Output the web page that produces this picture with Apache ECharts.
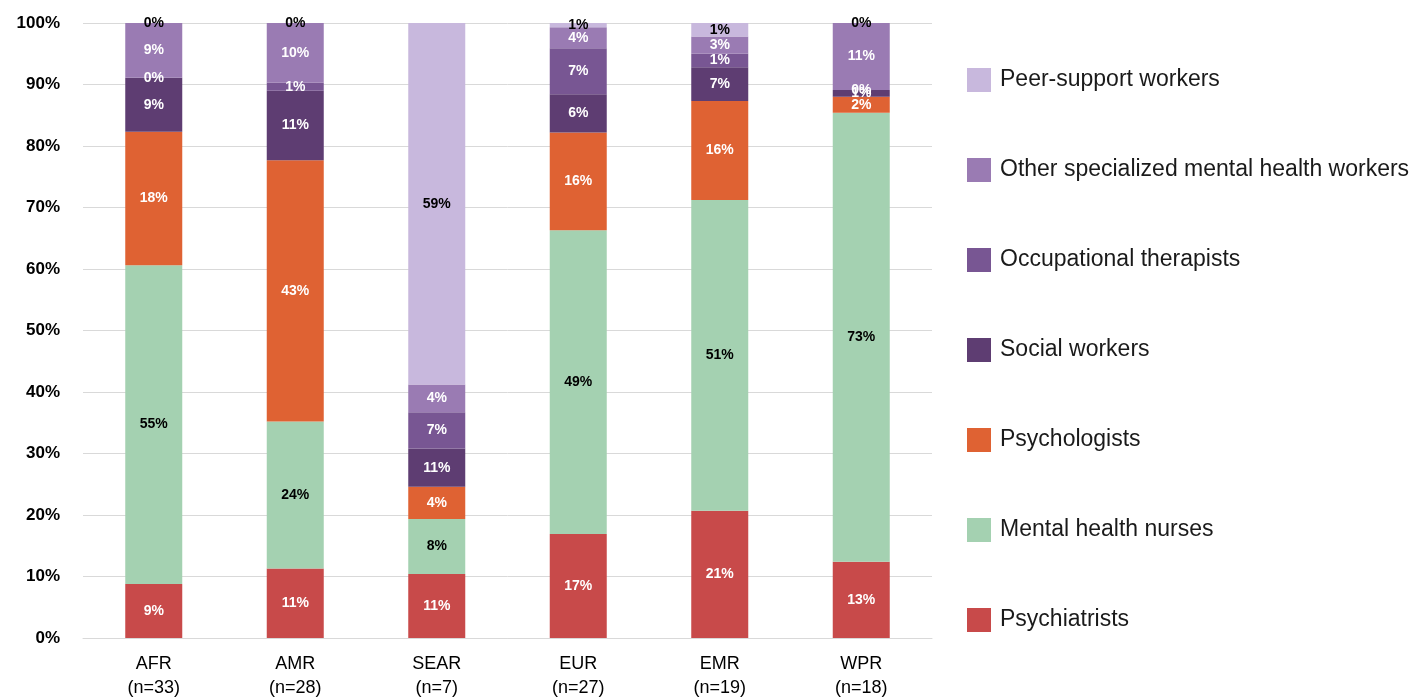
<!DOCTYPE html>
<html>
<head>
<meta charset="utf-8">
<script src="https://cdn.jsdelivr.net/npm/echarts@6/dist/echarts.min.js"></script>
<style>
  html, body { margin: 0; padding: 0; background: #fff; }
  #chart { width: 1424px; height: 697px; }
</style>
</head>
<body>
<div id="chart"></div>
<script>
// regions
var regions = ['AFR\n(n=33)', 'AMR\n(n=28)', 'SEAR\n(n=7)', 'EUR\n(n=27)', 'EMR\n(n=19)', 'WPR\n(n=18)'];

// bar heights (share of workforce, %)
var psychiatrists = [8.8, 11.3, 10.4, 16.9, 20.7, 12.4];
var nurses        = [51.8, 23.9, 8.95, 49.4, 50.5, 73.0];
var psychologists = [21.7, 42.5, 5.25, 15.9, 16.1, 2.6];
var socialWorkers = [8.8, 11.3, 6.2, 6.2, 5.5, 1.1];
var occupational  = [0, 1.3, 5.9, 7.5, 2.2, 0];
var otherWorkers  = [8.9, 9.7, 4.5, 3.4, 2.8, 10.9];
var peerSupport   = [0, 0, 58.8, 0.7, 2.2, 0];

// printed labels
var psychiatristsLbl = [9, 11, 11, 17, 21, 13];
var nursesLbl        = [55, 24, 8, 49, 51, 73];
var psychologistsLbl = [18, 43, 4, 16, 16, 2];
var socialLbl        = [9, 11, 11, 6, 7, 1];
var occupationalLbl  = [0, 1, 7, 7, 1, 0];
var otherLbl         = [9, 10, 4, 4, 3, 11];
var peerLbl          = [0, 0, 59, 1, 1, 0];

var yTicks = [0, 10, 20, 30, 40, 50, 60, 70, 80, 90, 100];

var chart = echarts.init(document.getElementById('chart'));

function mk(name, data, labels, color, labelColor) {
    return {
        name: name,
        type: 'bar',
        stack: 'total',
        barWidth: 57,
        data: data,
        itemStyle: { color: color },
        label: {
            show: true,
            position: 'inside',
            color: labelColor,
            fontFamily: 'Liberation Sans, Arial, sans-serif',
            fontWeight: 'bold',
            fontSize: 14,
            textBorderWidth: 0,
            formatter: function (p) { return labels[p.dataIndex] + '%'; }
        }
    };
}

var option = {
    animation: false,
    backgroundColor: '#fff',
    grid: { left: 83, right: 492, top: 23, bottom: 59, outerBoundsMode: 'none', containLabel: false },
    legend: {
        orient: 'vertical',
        left: 962,
        top: 63,
        itemWidth: 24,
        itemHeight: 24,
        itemGap: 66,
        icon: 'rect',
        textStyle: { fontFamily: 'Liberation Sans, Arial, sans-serif', fontSize: 23, color: '#1a1a1a', padding: [0, 0, 0, 4] },
        data: ['Peer-support workers', 'Other specialized mental health workers', 'Occupational therapists',
               'Social workers', 'Psychologists', 'Mental health nurses', 'Psychiatrists']
    },
    xAxis: {
        type: 'category',
        data: regions,
        axisTick: { show: false },
        axisLine: { lineStyle: { color: '#d9d9d9', width: 1 } },
        axisLabel: {
            margin: 14,
            fontFamily: 'Liberation Sans Narrow, Liberation Sans, Arial, sans-serif',
            fontSize: 18,
            lineHeight: 24,
            color: '#000'
        }
    },
    yAxis: {
        type: 'value',
        min: yTicks[0],
        max: yTicks[yTicks.length - 1],
        interval: 10,
        axisLine: { show: false },
        axisTick: { show: false },
        splitLine: { lineStyle: { color: '#d9d9d9', width: 1 } },
        axisLabel: {
            margin: 23,
            fontFamily: 'Liberation Sans, Arial, sans-serif',
            fontWeight: 'bold',
            fontSize: 17,
            color: '#000',
            formatter: '{value}%'
        }
    },
    series: [
        mk('Psychiatrists', psychiatrists, psychiatristsLbl, '#c84a4a', '#fff'),
        mk('Mental health nurses', nurses, nursesLbl, '#a4d1b1', '#000'),
        mk('Psychologists', psychologists, psychologistsLbl, '#df6233', '#fff'),
        mk('Social workers', socialWorkers, socialLbl, '#5e3d72', '#fff'),
        mk('Occupational therapists', occupational, occupationalLbl, '#785693', '#fff'),
        mk('Other specialized mental health workers', otherWorkers, otherLbl, '#9a7bb3', '#fff'),
        mk('Peer-support workers', peerSupport, peerLbl, '#c8b8dd', '#000')
    ]
};

chart.setOption(option);
</script>
</body>
</html>
